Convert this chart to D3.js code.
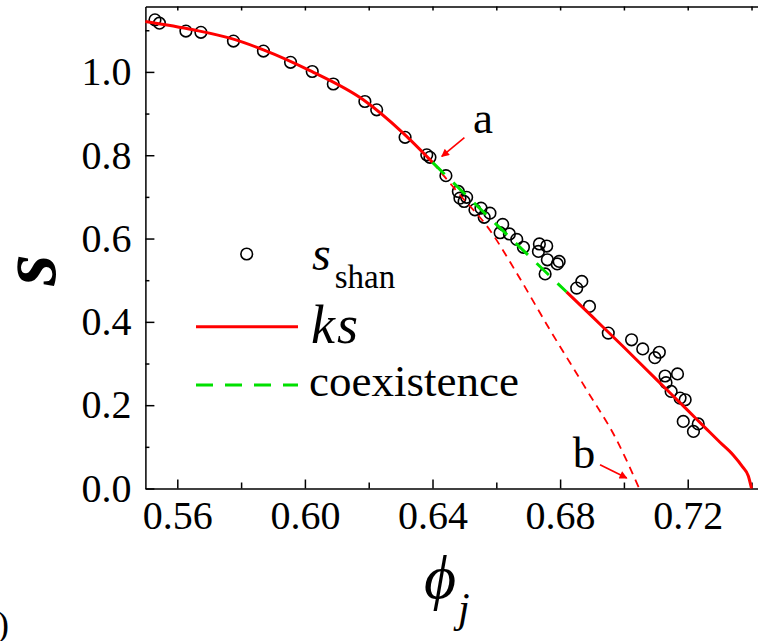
<!DOCTYPE html>
<html>
<head>
<meta charset="utf-8">
<script src="https://cdn.jsdelivr.net/npm/d3@7"></script>
<style>
  body { margin: 0; background: #fff; }
  text { font-family: "Liberation Serif", "DejaVu Serif", serif; }
</style>
</head>
<body>
<div class="chart"></div>
<script>
// s_shan points
var phiShan = [0.5530, 0.5544, 0.5627, 0.5674, 0.5776, 0.5870, 0.5955, 0.6023, 0.6089, 0.6188,
  0.6225, 0.6314, 0.6382, 0.6392, 0.6442, 0.6481, 0.6486, 0.6499, 0.6507, 0.6533,
  0.6552, 0.6562, 0.6580, 0.6620, 0.6612, 0.6641, 0.6664, 0.6685, 0.6735, 0.6758,
  0.6732, 0.6760, 0.6797, 0.6791, 0.6753, 0.6852, 0.6868, 0.6892, 0.6951, 0.7024,
  0.7059, 0.7111, 0.7097, 0.7129, 0.7168, 0.7132, 0.7148, 0.7176, 0.7192, 0.7186,
  0.7233, 0.7218];
var sShan = [1.125, 1.117, 1.098, 1.095, 1.074, 1.050, 1.023, 1.001, 0.971, 0.929,
  0.909, 0.843, 0.801, 0.795, 0.751, 0.713, 0.697, 0.689, 0.699, 0.669,
  0.673, 0.651, 0.661, 0.634, 0.614, 0.611, 0.598, 0.579, 0.587, 0.582,
  0.569, 0.549, 0.545, 0.539, 0.515, 0.481, 0.497, 0.437, 0.373, 0.357,
  0.335, 0.327, 0.314, 0.270, 0.275, 0.254, 0.233, 0.217, 0.213, 0.161,
  0.155, 0.137];

// ks curve
var ksPhi = [0.550, 0.565, 0.5765, 0.587, 0.6016, 0.6183, 0.6308, 0.640, 0.650, 0.660,
  0.670, 0.682, 0.690, 0.700, 0.710, 0.7197, 0.726, 0.7301, 0.7343, 0.7372,
  0.7390, 0.740];
var ksS = [1.121, 1.101, 1.081, 1.053, 1.003, 0.933, 0.853, 0.783, 0.708, 0.634,
  0.560, 0.472, 0.413, 0.339, 0.263, 0.190, 0.142, 0.111, 0.080, 0.052,
  0.030, 0.0];

// coexistence interval on the ks curve
var coexRange = [0.640, 0.682];

// thin dashed branch from a to b
var branchPhi = [0.640, 0.648, 0.658, 0.6664, 0.6768, 0.6883, 0.6977, 0.7048];
var branchS = [0.783, 0.710, 0.620, 0.517, 0.381, 0.237, 0.117, 0.0];

var xMajor = [0.56, 0.60, 0.64, 0.68, 0.72];
var xMinor = [0.58, 0.62, 0.66, 0.70, 0.74];
var yMajor = [0.0, 0.2, 0.4, 0.6, 0.8, 1.0];
var yMinor = [0.1, 0.3, 0.5, 0.7, 0.9, 1.1];

var svgWidth = 758;
var svgHeight = 641;

var svg = d3.select(".chart")
  .append("svg")
  .attr("width", svgWidth)
  .attr("height", svgHeight)
  .style("display", "block");

svg.append("rect")
  .attr("width", svgWidth)
  .attr("height", svgHeight)
  .attr("fill", "#fff");

var xScale = d3.scaleLinear()
  .domain([0.55, 0.742])
  .range([145.4, 757.9]);

var yScale = d3.scaleLinear()
  .domain([0, 1.157])
  .range([488.5, 6.5]);

var defs = svg.append("defs");
defs.append("marker")
  .attr("id", "head")
  .attr("viewBox", "0 0 10 10")
  .attr("refX", 9)
  .attr("refY", 5)
  .attr("markerWidth", 6)
  .attr("markerHeight", 5)
  .attr("orient", "auto")
  .attr("markerUnits", "strokeWidth")
  .append("path")
  .attr("d", "M0,0 L10,5 L0,10 z")
  .attr("fill", "red");

// axes
function styleAxis(g) {
  g.selectAll("path, line").attr("stroke", "#000").attr("stroke-width", 1.5);
  g.selectAll("text")
    .attr("font-family", "Liberation Serif, DejaVu Serif, serif")
    .attr("font-size", 40)
    .attr("fill", "#000");
}

svg.append("g")
  .attr("transform", `translate(0, ${yScale(0)})`)
  .call(d3.axisBottom(xScale).tickValues(xMajor).tickSize(-9).tickSizeOuter(0)
    .tickPadding(12).tickFormat(d3.format(".2f")))
  .call(styleAxis);

svg.append("g")
  .attr("transform", `translate(0, ${yScale(0)})`)
  .call(d3.axisBottom(xScale).tickValues(xMinor).tickSize(-6).tickFormat(""))
  .call(g => g.select(".domain").remove())
  .call(styleAxis);

svg.append("g")
  .attr("transform", `translate(0, ${yScale.range()[1]})`)
  .call(d3.axisTop(xScale).tickValues(xMajor.concat(xMinor)).tickSize(-4).tickSizeOuter(0).tickFormat(""))
  .call(styleAxis);

svg.append("g")
  .attr("transform", `translate(${xScale(0.55)}, 0)`)
  .call(d3.axisLeft(yScale).tickValues(yMajor).tickSize(-9).tickSizeOuter(0)
    .tickPadding(14).tickFormat(d3.format(".1f")))
  .call(styleAxis);

svg.append("g")
  .attr("transform", `translate(${xScale(0.55)}, 0)`)
  .call(d3.axisLeft(yScale).tickValues(yMinor).tickSize(-4).tickFormat(""))
  .call(g => g.select(".domain").remove())
  .call(styleAxis);

// data circles
svg.append("g")
  .selectAll("circle")
  .data(phiShan.map((p, i) => ({ phi: p, s: sShan[i] })))
  .enter()
  .append("circle")
  .attr("cx", d => xScale(d.phi))
  .attr("cy", d => yScale(d.s))
  .attr("r", 5.8)
  .attr("fill", "none")
  .attr("stroke", "#000")
  .attr("stroke-width", 1.6);

var line = d3.line()
  .x(d => xScale(d.phi))
  .y(d => yScale(d.s))
  .curve(d3.curveMonotoneX);

var ksData = ksPhi.map((p, i) => ({ phi: p, s: ksS[i] }));
var branchData = branchPhi.map((p, i) => ({ phi: p, s: branchS[i] }));

// thin red dashed branch
svg.append("path")
  .attr("d", line(branchData))
  .attr("fill", "none")
  .attr("stroke", "red")
  .attr("stroke-width", 1.8)
  .attr("stroke-dasharray", "8,6");

// ks solid pieces
svg.append("path")
  .attr("d", line(ksData.filter(d => d.phi <= coexRange[0])))
  .attr("fill", "none")
  .attr("stroke", "red")
  .attr("stroke-width", 3);

svg.append("path")
  .attr("d", line(ksData.filter(d => d.phi >= coexRange[1])))
  .attr("fill", "none")
  .attr("stroke", "red")
  .attr("stroke-width", 3);

// coexistence
svg.append("path")
  .attr("d", line(ksData.filter(d => d.phi >= coexRange[0] && d.phi <= coexRange[1])))
  .attr("fill", "none")
  .attr("stroke", "#00e000")
  .attr("stroke-width", 3)
  .attr("stroke-dasharray", "17,12");

// annotations a and b
var notes = [
  { label: "a", tx: 0.6527, ts: 0.853, from: [0.6500, 0.842], to: [0.6429, 0.797] },
  { label: "b", tx: 0.6840, ts: 0.050, from: [0.6925, 0.057], to: [0.7009, 0.025] }
];
notes.forEach(function (n) {
  svg.append("line")
    .attr("x1", xScale(n.from[0])).attr("y1", yScale(n.from[1]))
    .attr("x2", xScale(n.to[0])).attr("y2", yScale(n.to[1]))
    .attr("stroke", "red")
    .attr("stroke-width", 1.6)
    .attr("marker-end", "url(#head)");
  svg.append("text")
    .attr("x", xScale(n.tx))
    .attr("y", yScale(n.ts))
    .attr("font-size", 45)
    .text(n.label);
});

// legend
var legend = svg.append("g");
legend.append("circle")
  .attr("cx", 246.7).attr("cy", 254).attr("r", 5.8)
  .attr("fill", "none").attr("stroke", "#000").attr("stroke-width", 1.6);
var t1 = legend.append("text").attr("x", 312).attr("y", 270).attr("font-size", 48);
t1.append("tspan").attr("font-style", "italic").text("s");
t1.append("tspan").attr("font-size", 33).attr("dy", 18).attr("dx", 4).text("shan");

legend.append("line")
  .attr("x1", 196).attr("x2", 298).attr("y1", 326.7).attr("y2", 326.7)
  .attr("stroke", "red").attr("stroke-width", 3);
legend.append("text")
  .attr("x", 311).attr("y", 343)
  .attr("font-size", 54)
  .attr("font-style", "italic")
  .attr("letter-spacing", 2)
  .text("ks");

legend.append("line")
  .attr("x1", 196).attr("x2", 298).attr("y1", 385).attr("y2", 385)
  .attr("stroke", "#00e000").attr("stroke-width", 3)
  .attr("stroke-dasharray", "17,12");
legend.append("text")
  .attr("x", 309).attr("y", 396)
  .attr("font-size", 45)
  .text("coexistence");

// axis titles
svg.append("text")
  .attr("transform", "translate(55, 270) rotate(-90)")
  .attr("text-anchor", "middle")
  .attr("font-size", 80)
  .attr("font-style", "italic")
  .attr("font-weight", "bold")
  .text("s");

var xt = svg.append("text")
  .attr("x", 424)
  .attr("y", 598)
  .attr("font-size", 62)
  .attr("font-style", "italic");
xt.append("tspan").text("\u03D5");
xt.append("tspan").attr("font-size", 42).attr("dy", 24).attr("dx", 2).text("j");

// clipped panel label at bottom-left
svg.append("text")
  .attr("x", 9)
  .attr("y", 636)
  .attr("text-anchor", "end")
  .attr("font-size", 36)
  .text("(a)");
</script>
</body>
</html>
